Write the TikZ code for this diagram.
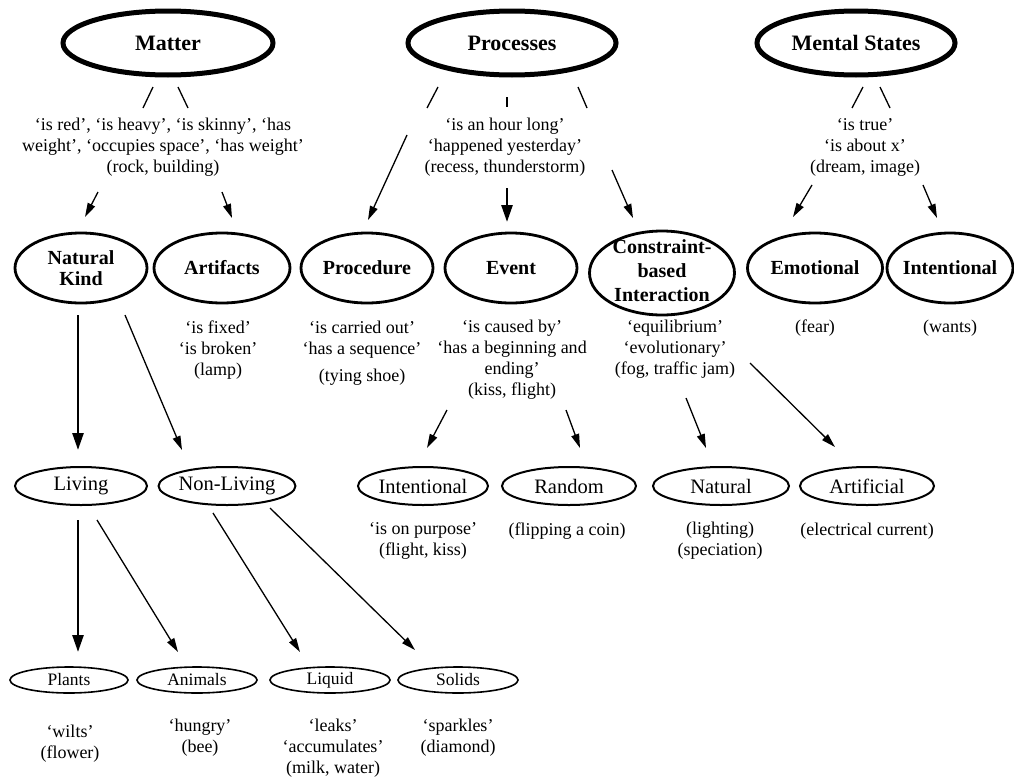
\documentclass[tikz,border=0pt]{standalone}
\usepackage{fontspec}
\setmainfont{Liberation Serif}
\usetikzlibrary{shapes.geometric, arrows.meta}

\tikzset{
  topoval/.style={ellipse, draw, line width=5pt, minimum height=64pt, inner sep=0pt, font=\fontsize{22}{24}\selectfont\bfseries},
  midoval/.style={ellipse, draw, line width=2.8pt, minimum height=70pt, inner sep=0pt, align=center, font=\fontsize{20}{21}\selectfont\bfseries},
  lowoval/.style={ellipse, draw, line width=2pt, minimum height=38pt, inner sep=0pt, font=\fontsize{20.5}{22}\selectfont},
  leafoval/.style={ellipse, draw, line width=1.6pt, minimum height=26pt, inner sep=0pt, font=\fontsize{17.5}{20}\selectfont},
  note/.style={align=center, inner sep=0pt, font=\fontsize{18}{21}\selectfont},
  seg/.style={line width=1.3pt},
  arr/.style={line width=1.3pt, -{Triangle[length=14pt, width=8pt]}},
  bigarr/.style={line width=2.6pt, -{Triangle[length=17pt, width=11pt]}}
}

\begin{document}
\begin{tikzpicture}[x=1pt, y=-1pt]
\useasboundingbox (0,0) rectangle (1014,779);
% top
\node[topoval, minimum width=210pt] (matter) at (168,43) {Matter};
\node[topoval, minimum width=208pt] (processes) at (512,43) {Processes};
\node[topoval, minimum width=198pt] (mental) at (856,43) {Mental States};
\node[note] (mattertext) at (163,147) {`is red', `is heavy', `is skinny', `has\\weight', `occupies space', `has weight'\\(rock, building)};
\node[note] (proctext) at (505,147) {`is an hour long'\\`happened yesterday'\\(recess, thunderstorm)};
\node[note] (mentaltext) at (865,147) {`is true'\\`is about x'\\(dream, image)};
% second row
\node[midoval, minimum width=132pt] (natkind) at (81,268) {Natural\\Kind};
\node[midoval, minimum width=136pt] (artifacts) at (222,268) {Artifacts};
\node[midoval, minimum width=132pt] (procedure) at (367,268) {Procedure};
\node[midoval, minimum width=132pt] (event) at (511,268) {Event};
\node[midoval, minimum width=145pt, minimum height=84pt] (constraint) at (662,273) {};
\node[font=\fontsize{20}{24}\selectfont\bfseries, align=center, inner sep=0pt] (constrainttitle) at (662,271) {Constraint-\\based\\Interaction};
\node[midoval, minimum width=135pt] (emotional) at (815,268) {Emotional};
\node[midoval, minimum width=126pt, inner xsep=-4pt] (intentmind) at (950,268) {Intentional};
\node[note] (artitext) at (218,350) {`is fixed'\\`is broken'\\(lamp)};
\node[note] (procdtext) at (362,353) {`is carried out'\\`has a sequence'\\[6pt](tying shoe)};
\node[note] (eventtext) at (512,360) {`is caused by'\\`has a beginning and\\ending'\\(kiss, flight)};
\node[note] (consttext) at (675,349) {`equilibrium'\\`evolutionary'\\(fog, traffic jam)};
\node[note] (emotext) at (815,328) {(fear)};
\node[note] (intenttext) at (950,328) {(wants)};
% third row
\node[lowoval, minimum width=132pt] (living) at (81,486) {Living};
\node[lowoval, minimum width=134pt] (nonliving) at (227,486) {Non-Living};
\node[lowoval, minimum width=130pt] (intentional) at (423,486) {Intentional};
\node[lowoval, minimum width=134pt] (random) at (569,486) {Random};
\node[lowoval, minimum width=136pt] (natural) at (721,486) {Natural};
\node[lowoval, minimum width=134pt] (artificial) at (867,486) {Artificial};
\node[note] (intentionaltext) at (423,541) {`is on purpose'\\(flight, kiss)};
\node[note] (randomtext) at (567,531) {(flipping a coin)};
\node[note] (naturaltext) at (720,541) {(lighting)\\(speciation)};
\node[note] (artificialtext) at (867,531) {(electrical current)};
% fourth row
\node[leafoval, minimum width=118pt] (plants) at (69,680) {Plants};
\node[leafoval, minimum width=120pt] (animals) at (197,680) {Animals};
\node[leafoval, minimum width=120pt] (liquid) at (330,680) {Liquid};
\node[leafoval, minimum width=120pt] (solids) at (458,680) {Solids};
\node[note] (plantstext) at (70,744) {`wilts'\\(flower)};
\node[note] (animalstext) at (200,738) {`hungry'\\(bee)};
\node[note] (liquidtext) at (333,748) {`leaks'\\`accumulates'\\(milk, water)};
\node[note] (solidstext) at (458,738) {`sparkles'\\(diamond)};
% Matter
\draw[seg] ([shift={(-15,44)}]matter.center) -- ([shift={(-20,-39)}]mattertext.center);
\draw[arr] ([shift={(-65,45)}]mattertext.center) -- ([shift={(4,-51)}]natkind.center);
\draw[seg] ([shift={(10,44)}]matter.center) -- ([shift={(25,-39)}]mattertext.center);
\draw[arr] ([shift={(59,45)}]mattertext.center) -- ([shift={(10,-50)}]artifacts.center);
% Processes
\draw[seg] ([shift={(-74,44)}]processes.center) -- ([shift={(-78,-39)}]proctext.center);
\draw[arr] ([shift={(-98,-12)}]proctext.center) -- ([shift={(1,-48)}]procedure.center);
\draw[line width=2.6pt] ([shift={(-5,54)}]processes.center) -- ([shift={(2,-40)}]proctext.center);
\draw[bigarr] ([shift={(2,41)}]proctext.center) -- ([shift={(-4,-46)}]event.center);
\draw[seg] ([shift={(66,44)}]processes.center) -- ([shift={(82,-39)}]proctext.center);
\draw[arr] ([shift={(107,23)}]proctext.center) -- ([shift={(-29,-55)}]constraint.center);
% Mental States
\draw[seg] ([shift={(7,44)}]mental.center) -- ([shift={(-13,-39)}]mentaltext.center);
\draw[arr] ([shift={(-53,38)}]mentaltext.center) -- ([shift={(-22,-51)}]emotional.center);
\draw[seg] ([shift={(24,44)}]mental.center) -- ([shift={(25,-39)}]mentaltext.center);
\draw[arr] ([shift={(58,38)}]mentaltext.center) -- ([shift={(-13,-50)}]intentmind.center);
% second row down
\draw[bigarr] ([shift={(-3,47)}]natkind.center) -- ([shift={(-3,-36)}]living.center);
\draw[arr] ([shift={(44,47)}]natkind.center) -- ([shift={(-45,-36)}]nonliving.center);
\draw[arr] ([shift={(-65,50)}]eventtext.center) -- ([shift={(4,-38)}]intentional.center);
\draw[arr] ([shift={(54,50)}]eventtext.center) -- ([shift={(11,-38)}]random.center);
\draw[arr] ([shift={(11,49)}]consttext.center) -- ([shift={(-15,-38)}]natural.center);
\draw[arr] ([shift={(75,14)}]consttext.center) -- ([shift={(-32,-39)}]artificial.center);
% third row down
\draw[bigarr] ([shift={(-3,34)}]living.center) -- ([shift={(9,-28)}]plants.center);
\draw[arr] ([shift={(16,34)}]living.center) -- ([shift={(-19,-28)}]animals.center);
\draw[arr] ([shift={(-14,27)}]nonliving.center) -- ([shift={(-30,-28)}]liquid.center);
\draw[arr] ([shift={(43,22)}]nonliving.center) -- ([shift={(-43,-30)}]solids.center);
\end{tikzpicture}
\end{document}
